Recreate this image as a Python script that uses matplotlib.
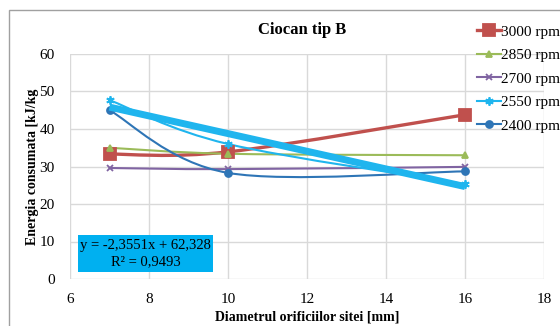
import matplotlib
matplotlib.use("Agg")
import matplotlib.pyplot as plt
import numpy as np
from matplotlib.path import Path
from matplotlib.patches import PathPatch, Rectangle
from matplotlib.lines import Line2D

plt.rcParams['font.family'] = ['Liberation Serif', 'DejaVu Serif']

# Data: specific energy consumption vs. screen hole diameter
diameter = [7, 10, 16]
rpm_labels = ["3000 rpm", "2850 rpm", "2700 rpm", "2550 rpm", "2400 rpm"]
e_3000 = [33.3, 33.9, 43.8]
e_2850 = [35.0, 33.4, 33.0]
e_2700 = [29.6, 29.3, 29.9]
e_2550 = [47.7, 36.0, 25.3]
e_2400 = [45.0, 28.3, 28.7]

# Linear trend of the 2550 rpm series
trend_slope = -2.3551
trend_intercept = 62.328
trend_r2 = 0.9493

series = [e_3000, e_2850, e_2700, e_2550, e_2400]
colors = ["#C0504D", "#9BBB59", "#8064A2", "#1FB5EE", "#2E75B6"]
markers = ["s", "^", "x", (6, 2, 0), "o"]
msizes = [8, 5, 5, 6, 5]
lwidths = [2.4, 1.5, 1.5, 1.5, 1.5]


def smooth_path(xs, ys):
    """Cubic Bezier path through the points (spreadsheet-style smoothing)."""
    pts = np.column_stack([xs, ys]).astype(float)
    n = len(pts)
    verts = [tuple(pts[0])]
    codes = [Path.MOVETO]
    for i in range(n - 1):
        p0 = pts[i - 1] if i > 0 else pts[i]
        p1 = pts[i]
        p2 = pts[i + 1]
        p3 = pts[i + 2] if i + 2 < n else pts[i + 1]
        c1 = p1 + (p2 - p0) / 6.0
        c2 = p2 - (p3 - p1) / 6.0
        verts += [tuple(c1), tuple(c2), tuple(p2)]
        codes += [Path.CURVE4] * 3
    return Path(verts, codes)


fig = plt.figure(figsize=(5.6, 3.26), dpi=100)

# Outer chart frame
fig.patches.append(Rectangle((9 / 560, -0.2), 1.2, 1 - 10 / 326 + 0.2,
                             transform=fig.transFigure, fill=False,
                             edgecolor="#A0A0A0", lw=1.0, zorder=0))

ax = fig.add_axes([70 / 560, 1 - 279 / 326, 474 / 560, 225 / 326])
ax.set_xlim(6, 18)
ax.set_ylim(0, 60)
ax.set_xticks(np.arange(6, 19, 2))
ax.set_yticks(np.arange(0, 61, 10))
ax.grid(True, color="#D9D9D9", lw=1.0)
ax.set_axisbelow(True)
for s in ax.spines.values():
    s.set_visible(False)
ax.tick_params(axis="x", length=0, labelsize=11, pad=10)
ax.tick_params(axis="y", length=0, labelsize=11, pad=11)

for ys, c, m, ms, lw in zip(series, colors, markers, msizes, lwidths):
    ax.add_patch(PathPatch(smooth_path(diameter, ys), fill=False,
                           edgecolor=c, lw=lw, zorder=3,
                           capstyle="round", joinstyle="round"))
    ax.plot(diameter, ys, linestyle="none", marker=m, ms=ms, color=c,
            mec=c, mew=1.3, zorder=4)

# Trend line for 2550 rpm
tx = np.array([diameter[0], diameter[-1]], dtype=float)
ax.plot(tx, trend_slope * tx + trend_intercept, color="#1FB5EE", lw=5,
        solid_capstyle="butt", zorder=5)

# Trend equation label
ax.add_patch(Rectangle((8 / 474, 7 / 225), 135 / 474, 37 / 225,
                       transform=ax.transAxes, facecolor="#00B0F0",
                       edgecolor="none", zorder=6))
bx = (78 + 135 / 2 - 70) / 474
ax.text(bx, (279 - 245) / 225,
        "y = {:.4f}x + {:.3f}".format(trend_slope, trend_intercept).replace(".", ","),
        transform=ax.transAxes, ha="center", va="center", fontsize=10.5, zorder=7)
ax.text(bx, (279 - 262) / 225,
        "R² = {:.4f}".format(trend_r2).replace(".", ","),
        transform=ax.transAxes, ha="center", va="center", fontsize=10.5, zorder=7)

ax.set_xlabel("Diametrul orificiilor sitei [mm]", fontsize=10,
              fontweight="bold", labelpad=3)
ax.set_ylabel("Energia consumata [kJ/kg", fontsize=10, fontweight="bold",
              labelpad=0)
fig.text(302 / 560, 1 - 30 / 326, "Ciocan tip B", ha="center", va="center",
         fontsize=12, fontweight="bold")

handles = [Line2D([], [], color=c, lw=lw, marker=m, ms=ms, mec=c, mew=1.3)
           for c, m, ms, lw in zip(colors, markers, msizes, lwidths)]
fig.legend(handles, rpm_labels, loc="upper left",
           bbox_to_anchor=(477 / 560, 1 - 25 / 326), frameon=False,
           fontsize=11, handlelength=1.6, handletextpad=0.0,
           labelspacing=0.64, borderpad=0, borderaxespad=0)

fig.savefig("out.png", dpi=100)
